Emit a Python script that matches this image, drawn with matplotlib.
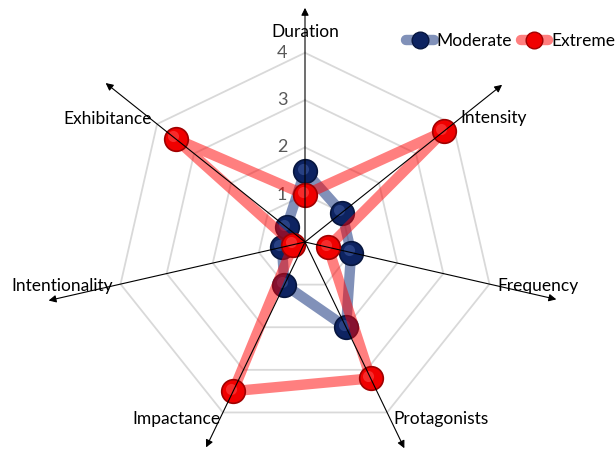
import numpy as np
import matplotlib
matplotlib.use('Agg')
import matplotlib.pyplot as plt
from matplotlib.lines import Line2D
from matplotlib.transforms import offset_copy

categories = ['Duration', 'Intensity', 'Frequency', 'Protagonists',
              'Impactance', 'Intentionality', 'Exhibitance']
moderate = [1.5, 1.0, 1.0, 2.0, 1.0, 0.5, 0.5]
extreme = [1.0, 3.75, 0.5, 3.2, 3.5, 0.25, 3.5]
levels = [1, 2, 3, 4]
tick_values = [0, 1, 2, 3, 4]
tick_labels = ['0', '1', '2', '3', '4']
series_names = ['Moderate', 'Extreme']

# layout helpers (not data)
arrow_len = [4.95, 5.33, 5.45, 4.84, 4.82, 5.56, 5.39]
label_theta_deg = [0, 56.7, 100.7, 142.5, 216.1, 259.7, 302]
label_r = [4.44, 4.78, 5.01, 4.72, 4.63, 5.22, 4.91]

plt.rcParams['font.family'] = ['Lato', 'DejaVu Sans']

W, H = 615, 449
fig = plt.figure(figsize=(W / 100, H / 100), dpi=100)
cx, cy = 305, H - 242
unit = 47.3
rmax = 5.7
rad = rmax * unit
ax = fig.add_axes([(cx - rad) / W, (cy - rad) / H, 2 * rad / W, 2 * rad / H],
                  projection='polar')
ax.set_theta_zero_location('N')
ax.set_theta_direction(-1)
ax.set_ylim(0, rmax)
ax.axis('off')

n = len(categories)
theta = np.arange(n) * 2 * np.pi / n
tc = np.append(theta, theta[0])

# grid polygons
for lv in levels:
    ax.plot(tc, [lv] * (n + 1), color='#D9D9D9', lw=1.3, zorder=1, clip_on=False)

# value tick labels
for v, s in zip(tick_values, tick_labels):
    ax.annotate(s, xy=(0, v), xytext=(-16.5, 0), textcoords='offset points',
                ha='center', va='center', color='#595959', fontsize=13, zorder=2)

fs = 12.5
def draw_series(vals, line_rgba, face, edge, hi, z):
    vc = np.append(vals, vals[0])
    ax.plot(tc, vc, color=line_rgba, lw=7.5, solid_joinstyle='round',
            solid_capstyle='round', zorder=z, clip_on=False)
    ax.plot(theta, vals, 'o', ms=17, mfc=face, mec=edge, mew=1.2,
            zorder=z + 0.1, clip_on=False)
    tr = offset_copy(ax.transData, fig=fig, x=-2.5, y=2.5, units='dots')
    ax.plot(theta, vals, 'o', ms=8, mfc=hi, mec='none', alpha=0.45,
            transform=tr, zorder=z + 0.2, clip_on=False)

draw_series(moderate, (0.10, 0.22, 0.50, 0.55), '#0D2361', '#07163F', '#4A66B0', 3)
draw_series(extreme, (1.0, 0.0, 0.0, 0.5), '#F00000', '#A00000', '#FF6060', 4)

# axis arrows
for th, L in zip(theta, arrow_len):
    ax.annotate('', xy=(th, L), xytext=(th, 0),
                arrowprops=dict(arrowstyle='-|>', color='black', lw=0.8,
                                mutation_scale=11, shrinkA=0, shrinkB=0),
                annotation_clip=False, zorder=6)

# category labels
for name, td, r in zip(categories, label_theta_deg, label_r):
    ax.text(np.deg2rad(td), r, name, ha='center', va='center', fontsize=fs,
            color='black', zorder=7, clip_on=False)

# legend
handles = [
    Line2D([], [], color=(0.10, 0.22, 0.50, 0.55), lw=7.5, marker='o', ms=12,
           mfc='#0D2361', mec='#07163F', solid_capstyle='round'),
    Line2D([], [], color=(1.0, 0.0, 0.0, 0.5), lw=7.5, marker='o', ms=12,
           mfc='#F00000', mec='#A00000', solid_capstyle='round'),
]
fig.legend(handles, series_names, loc='center left',
           bbox_to_anchor=(406 / W, 1 - 41 / H), ncol=2, frameon=False,
           fontsize=fs, handlelength=1.6, handletextpad=0.15,
           columnspacing=0.5, borderpad=0, borderaxespad=0)

fig.savefig('out.png', dpi=100)
